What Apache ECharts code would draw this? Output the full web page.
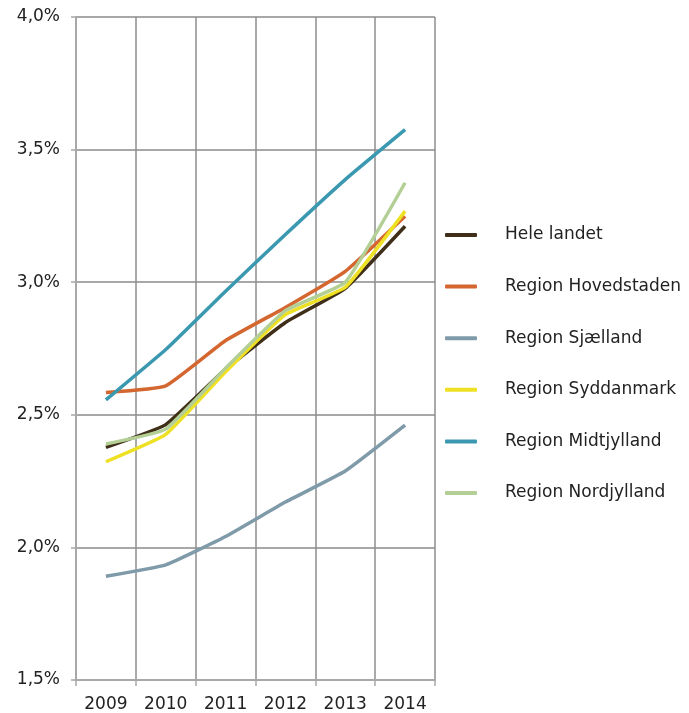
<!DOCTYPE html>
<html>
<head>
<meta charset="utf-8">
<script src="https://cdn.jsdelivr.net/npm/echarts@6/dist/echarts.min.js"></script>
<style>
  html, body { margin: 0; padding: 0; background: #fff; }
  #chart { width: 689px; height: 713px; }
</style>
</head>
<body>
<div id="chart"></div>
<script>
// Years on the x axis
const years = ['2009', '2010', '2011', '2012', '2013', '2014'];

// Shares in percent per region
const heleLandet      = [2.377, 2.463, 2.672, 2.848, 2.977, 3.211];
const hovedstaden     = [2.584, 2.609, 2.780, 2.905, 3.041, 3.249];
const sjaelland       = [1.891, 1.934, 2.041, 2.171, 2.288, 2.461];
const syddanmark      = [2.323, 2.426, 2.662, 2.878, 2.981, 3.268];
const midtjylland     = [2.556, 2.746, 2.966, 3.180, 3.387, 3.575];
const nordjylland     = [2.390, 2.446, 2.676, 2.893, 3.000, 3.375];

const seriesNames = ['Hele landet', 'Region Hovedstaden', 'Region Sjælland',
                     'Region Syddanmark', 'Region Midtjylland', 'Region Nordjylland'];
const seriesData = [heleLandet, hovedstaden, sjaelland, syddanmark, midtjylland, nordjylland];
const seriesColors = ['#3f2f18', '#d4662f', '#7f9aa8', '#eee023', '#3a98b0', '#b3cf96'];

const FONT = 'DejaVu Sans';
const chart = echarts.init(document.getElementById('chart'));

chart.setOption({
  animation: false,
  backgroundColor: '#ffffff',
  grid: { left: 76, right: 254, top: 17, bottom: 32, containLabel: false },
  legend: {
    orient: 'vertical',
    left: 440,
    top: 221,
    itemWidth: 32,
    itemHeight: 4,
    itemGap: 33.6,
    icon: 'roundRect',
    data: seriesNames,
    textStyle: {
      fontFamily: FONT, fontSize: 17, color: '#222', lineHeight: 18,
      padding: [0, 0, 0, 23]
    }
  },
  xAxis: {
    type: 'category',
    data: years,
    boundaryGap: true,
    axisLine: { show: true, lineStyle: { color: '#a8a8a8', width: 2 } },
    axisTick: { show: true, length: 6, lineStyle: { color: '#a8a8a8', width: 1.5 } },
    axisLabel: { fontFamily: FONT, fontSize: 17, color: '#222', margin: 16 },
    splitLine: { show: true, lineStyle: { color: '#8e8e8e', width: 1.5 } }
  },
  yAxis: {
    type: 'value',
    min: 1.5,
    max: 4.0,
    interval: 0.5,
    axisLine: { show: true, lineStyle: { color: '#a8a8a8', width: 2 } },
    axisTick: { show: true, length: 5, lineStyle: { color: '#a8a8a8', width: 1.5 } },
    axisLabel: {
      fontFamily: FONT, fontSize: 17, color: '#222', margin: 16,
      formatter: v => v.toFixed(1).replace('.', ',') + '%'
    },
    splitLine: { show: true, lineStyle: { color: '#a8a8a8', width: 2 } }
  },
  series: seriesNames.map((name, i) => ({
    name,
    type: 'line',
    data: seriesData[i],
    symbol: 'none',
    smooth: 0.12,
    color: seriesColors[i],
    lineStyle: { width: 3.5, color: seriesColors[i] },
    z: 3
  }))
});
</script>
</body>
</html>
